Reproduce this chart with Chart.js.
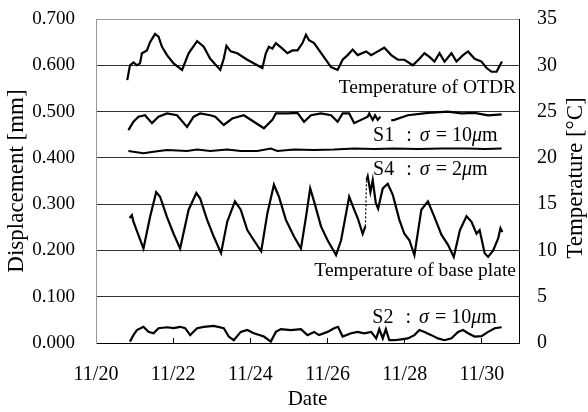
<!DOCTYPE html>
<html><head><meta charset="utf-8">
<script src="https://cdn.jsdelivr.net/npm/chart.js@4/dist/chart.umd.min.js"></script>
<style>html,body{margin:0;padding:0;background:#fff}canvas{display:block}</style>
</head><body>
<canvas id="c" width="588" height="412"></canvas>
<script>
// ---- data (x = days after 11/20) ----
const xTickLabels = ['11/20','11/22','11/24','11/26','11/28','11/30'];
const yLeftTicks = ['0.000','0.100','0.200','0.300','0.400','0.500','0.600','0.700'];
const yRightTicks = ['0','5','10','15','20','25','30','35'];

const otdrDay = [0.81,0.88,0.97,1.06,1.14,1.19,1.32,1.40,1.53,1.62,1.71,1.84,2.01,2.23,2.40,2.62,2.79,2.96,3.22,3.31,3.38,3.49,3.66,3.92,4.18,4.31,4.40,4.48,4.57,4.66,4.83,4.96,5.09,5.22,5.35,5.44,5.52,5.65,5.87,6.09,6.26,6.39,6.52,6.65,6.78,7.00,7.13,7.30,7.47,7.65,7.82,7.99,8.21,8.38,8.51,8.64,8.77,8.90,9.03,9.21,9.34,9.51,9.64,9.81,9.99,10.12,10.25,10.38,10.44,10.52];
const otdrTemp = [28.4,30.0,30.3,30.0,30.2,31.3,31.6,32.5,33.4,33.1,32.0,31.1,30.2,29.5,31.3,32.6,32.0,30.7,29.5,30.7,32.1,31.5,31.3,30.6,30.0,29.7,31.3,32.0,31.8,32.4,31.8,31.3,31.6,31.6,32.4,33.3,32.7,32.4,31.1,29.8,29.5,30.6,31.1,31.7,31.1,31.5,31.1,31.5,31.9,31.1,30.6,30.6,30.0,30.7,31.3,30.9,30.4,31.3,30.4,31.3,30.4,31.1,31.5,30.7,30.4,29.7,29.3,29.3,29.8,30.4];

const s1Day = [0.84,0.97,1.10,1.27,1.45,1.62,1.84,2.10,2.36,2.53,2.70,2.96,3.09,3.31,3.53,3.83,4.09,4.35,4.57,4.66,4.96,5.22,5.39,5.57,5.83,6.09,6.26,6.39,6.56,6.69,7.04,7.08,7.17,7.23,7.30,7.37,7.50,7.65,7.73,8.08,8.60,9.12,9.47,9.81,10.16,10.51];
const s1Disp = [0.460,0.478,0.489,0.492,0.475,0.489,0.496,0.492,0.467,0.489,0.496,0.492,0.489,0.471,0.485,0.492,0.478,0.464,0.482,0.496,0.496,0.497,0.478,0.492,0.496,0.492,0.478,0.496,0.496,0.475,0.489,0.496,0.482,0.492,0.482,0.489,null,0.481,0.482,0.492,0.497,0.500,0.496,0.497,0.492,0.494];

const s4Day = [0.84,0.97,1.23,1.49,1.84,2.36,2.62,2.96,3.40,3.75,4.18,4.53,4.70,5.13,5.65,6.17,6.69,7.21,7.73,8.34,8.95,9.64,10.07,10.51];
const s4Disp = [0.415,0.413,0.410,0.413,0.417,0.415,0.418,0.415,0.418,0.415,0.415,0.420,0.415,0.418,0.417,0.418,0.420,0.419,0.420,0.419,0.420,0.420,0.419,0.420];

const baseDay = [0.87,0.93,0.97,1.23,1.40,1.56,1.66,1.84,2.01,2.18,2.40,2.60,2.70,2.88,3.05,3.24,3.40,3.60,3.75,3.92,4.09,4.28,4.44,4.61,4.74,4.92,5.13,5.31,5.44,5.55,5.65,5.83,6.00,6.22,6.35,6.56,6.69,6.78,6.91,6.98,7.01,7.04,7.11,7.17,7.25,7.31,7.43,7.56,7.69,7.86,7.99,8.12,8.25,8.43,8.60,8.77,8.95,9.12,9.27,9.43,9.60,9.73,9.86,9.94,10.07,10.16,10.29,10.42,10.48,10.53];
const baseTemp = [13.5,13.8,13.1,10.2,13.6,16.3,15.8,13.6,11.8,10.2,14.4,16.2,15.6,13.3,11.5,9.7,13.1,15.3,14.4,12.2,11.1,9.9,14.0,17.1,15.8,13.3,11.5,10.2,13.6,16.7,15.3,12.6,11.1,9.5,11.1,15.8,14.4,13.5,11.8,12.6,17.6,18.0,16.3,17.6,15.1,14.5,16.7,17.2,16.0,13.3,11.8,11.1,9.5,14.4,15.3,13.6,11.7,10.6,9.3,12.2,13.7,13.1,11.8,12.2,9.7,9.3,10.0,11.3,12.4,12.0];

const s2Day = [0.88,0.97,1.06,1.23,1.36,1.49,1.62,1.84,2.01,2.18,2.31,2.44,2.62,2.79,3.05,3.31,3.44,3.57,3.75,3.92,4.09,4.35,4.53,4.66,4.79,5.05,5.31,5.48,5.65,5.78,6.00,6.17,6.27,6.39,6.61,6.78,6.95,7.13,7.26,7.34,7.43,7.51,7.60,7.73,7.91,8.08,8.25,8.38,8.51,8.69,8.86,9.03,9.21,9.38,9.51,9.64,9.81,9.99,10.16,10.33,10.51];
const s2Disp = [0.003,0.017,0.028,0.035,0.024,0.021,0.032,0.034,0.032,0.035,0.032,0.017,0.032,0.035,0.037,0.032,0.014,0.006,0.024,0.028,0.021,0.014,0.003,0.024,0.030,0.028,0.030,0.017,0.024,0.017,0.024,0.032,0.035,0.014,0.021,0.024,0.021,0.024,0.010,0.030,0.010,0.030,0.006,0.006,0.008,0.010,0.017,0.028,0.024,0.017,0.010,0.006,0.010,0.024,0.028,0.021,0.014,0.015,0.024,0.032,0.034];

// ---- helpers ----
const pts = (xs, ys) => xs.map((x, i) => ({x, y: ys[i]}));
const SERIF = "'Liberation Serif','Times New Roman',serif";
Chart.defaults.font.family = SERIF;
Chart.defaults.color = '#000';

const lineDs = (data, axis, extra) => Object.assign({
  data, yAxisID: axis, borderColor: '#000', borderWidth: 2.2, pointRadius: 0,
  tension: 0, spanGaps: false, fill: false
}, extra || {});

// the short, steep recording jump in the base-plate trace is drawn dotted
const isJump = c => (c.p1.parsed.x - c.p0.parsed.x < 0.05) && (c.p1.parsed.y - c.p0.parsed.y > 3);

// annotation specs
const plainNotes = [
  {text: 'Temperature of OTDR', yVal: 0.540},
  {text: 'Temperature of base plate', yVal: 0.145}
];
const sigmaNotes = [
  {name: 'S1', num: '10', xDay: 7.18, yVal: 0.436},
  {name: 'S4', num: '2', xDay: 7.18, yVal: 0.363},
  {name: 'S2', num: '10', xDay: 7.16, yVal: 0.043}
];

const notesPlugin = {
  id: 'notes',
  afterDraw(chart) {
    const {ctx, chartArea, scales} = chart;
    const xs = scales.x, yl = scales.y;
    ctx.save();
    ctx.fillStyle = '#000';
    ctx.textBaseline = 'alphabetic';
    ctx.font = '19.5px ' + SERIF;
    ctx.textAlign = 'right';
    plainNotes.forEach(n => ctx.fillText(n.text, chartArea.right - 3, yl.getPixelForValue(n.yVal)));
    ctx.textAlign = 'left';
    const normal = '20px ' + SERIF, ital = 'italic 20px ' + SERIF;
    sigmaNotes.forEach(n => {
      let x = xs.getPixelForValue(n.xDay);
      const y = yl.getPixelForValue(n.yVal);
      const put = (t, f, gap) => { x += gap; ctx.font = f; ctx.fillText(t, x, y); x += ctx.measureText(t).width; };
      put(n.name, normal, 0);
      put(':', normal, 12);
      put('σ', ital, 8);
      put('=', normal, 6);
      put(n.num, normal, 5);
      put('μ', ital, 0);
      put('m', normal, 0);
    });
    // right axis title (reads bottom-to-top)
    ctx.font = '23px ' + SERIF;
    ctx.textAlign = 'center';
    ctx.textBaseline = 'middle';
    ctx.translate(chart.width - 12, (chartArea.top + chartArea.bottom) / 2 - 3);
    ctx.rotate(-Math.PI / 2);
    ctx.fillText('Temperature [°C]', 0, 0);
    ctx.restore();
  }
};

const fixV = w => s => { s.width = w; s.paddingTop = 0; s.paddingBottom = 0; };

new Chart(document.getElementById('c'), {
  type: 'line',
  data: {
    datasets: [
      lineDs(pts(otdrDay, otdrTemp), 'y2'),
      lineDs(pts(s1Day, s1Disp), 'y'),
      lineDs(pts(s4Day, s4Disp), 'y', {borderWidth: 2}),
      lineDs(pts(baseDay, baseTemp), 'y2', {
        segment: {borderDash: c => (isJump(c) ? [2, 2] : undefined),
                  borderWidth: c => (isJump(c) ? 1.2 : undefined)}
      }),
      lineDs(pts(s2Day, s2Disp), 'y')
    ]
  },
  options: {
    responsive: false,
    animation: false,
    events: [],
    layout: {padding: {top: 19, left: 0, right: 0, bottom: 0}},
    plugins: {legend: {display: false}, tooltip: {enabled: false}},
    scales: {
      x: {
        type: 'linear', min: 0, max: 10.96,
        afterFit: s => { s.height = 69; s.paddingLeft = 0; s.paddingRight = 0; },
        ticks: {stepSize: 2, includeBounds: false, padding: 25, maxRotation: 0,
                font: {size: 20},
                callback: v => xTickLabels[Math.round(v / 2)]},
        grid: {drawOnChartArea: false, drawTicks: true, tickLength: -5, tickColor: '#000', tickWidth: 1, color: '#000'},
        border: {display: true, color: '#000', width: 1},
        title: {display: true, text: 'Date', font: {size: 21}, padding: {top: 0, bottom: 0}}
      },
      y: {
        position: 'left', min: 0, max: 0.7,
        afterFit: fixV(96),
        ticks: {stepSize: 0.1, padding: 21, font: {size: 19},
                callback: v => yLeftTicks[Math.round(v * 10)]},
        grid: {drawTicks: false, color: c => (c.tick && Math.round(c.tick.value * 10) === 7 ? '#999' : '#333'), lineWidth: 1},
        border: {display: true, color: '#999', width: 1},
        title: {display: true, text: 'Displacement [mm]', font: {size: 23}, padding: {top: 3, bottom: 0}}
      },
      y2: {
        position: 'right', min: 0, max: 35,
        afterFit: fixV(69),
        ticks: {stepSize: 5, padding: 18, font: {size: 20},
                callback: v => yRightTicks[Math.round(v / 5)]},
        grid: {display: false, drawOnChartArea: false, drawTicks: false},
        border: {display: true, color: '#000', width: 1}
      }
    }
  },
  plugins: [notesPlugin]
});
</script>
</body></html>
